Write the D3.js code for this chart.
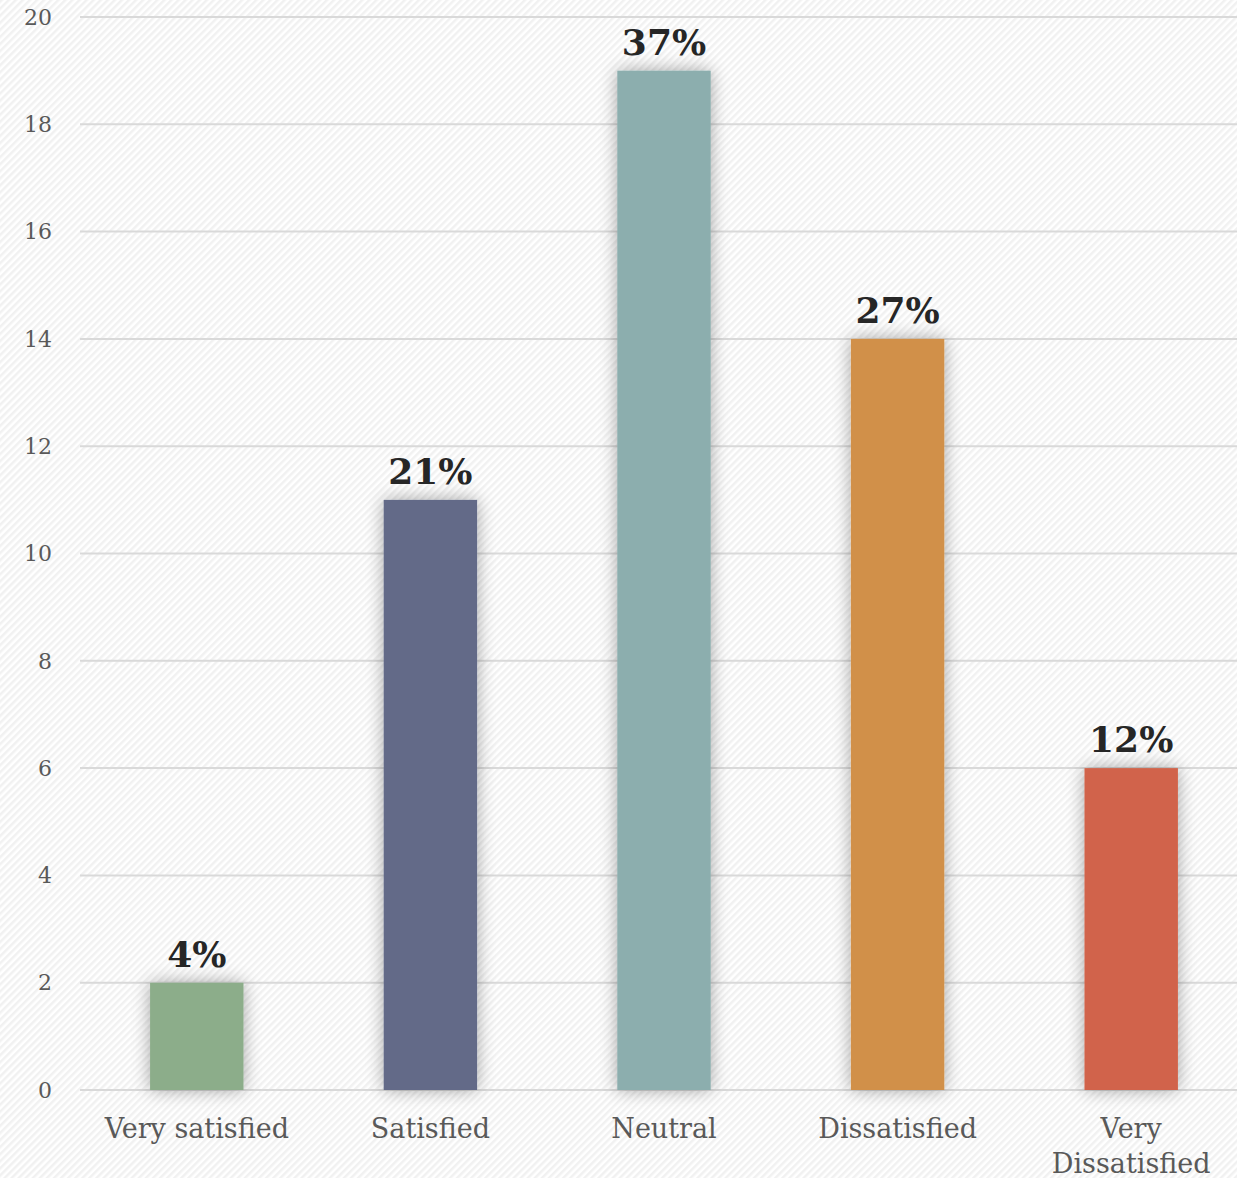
<!DOCTYPE html>
<html><head><meta charset="utf-8">
<script src="https://cdn.jsdelivr.net/npm/d3@7"></script>
<style>html,body{margin:0;padding:0;background:#fff;}svg{display:block;}</style>
</head><body>
<script>
const categories = ["Very satisfied", "Satisfied", "Neutral", "Dissatisfied", "Very Dissatisfied"];
const values = [2, 11, 19, 14, 6];
const pctLabels = ["4%", "21%", "37%", "27%", "12%"];
const colors = ["#8cad8a", "#636b88", "#8caeae", "#d19049", "#d1644b"];
const yTicks = [0, 2, 4, 6, 8, 10, 12, 14, 16, 18, 20];

const W = 1237, H = 1178;
const svg = d3.select("body").append("svg").attr("width", W).attr("height", H);
const defs = svg.append("defs");
const pat = defs.append("pattern").attr("id", "stripes").attr("patternUnits", "userSpaceOnUse")
  .attr("width", 5).attr("height", 5).attr("patternTransform", "rotate(45)");
pat.append("rect").attr("width", 5).attr("height", 5).attr("fill", "#ffffff");
pat.append("rect").attr("width", 2.5).attr("height", 5).attr("fill", "#f1f1f1");
const f = defs.append("filter").attr("id", "shadow").attr("x", "-50%").attr("y", "-20%").attr("width", "200%").attr("height", "140%");
f.append("feGaussianBlur").attr("in", "SourceAlpha").attr("stdDeviation", 9).attr("result", "b");
f.append("feComponentTransfer").attr("in", "b").attr("result", "b2")
  .append("feFuncA").attr("type", "linear").attr("slope", 0.35);
const m = f.append("feMerge");
m.append("feMergeNode").attr("in", "b2");
m.append("feMergeNode").attr("in", "SourceGraphic");

svg.append("rect").attr("width", W).attr("height", H).attr("fill", "url(#stripes)");

const y = d3.scaleLinear().domain([0, 20]).range([1090, 17]);
const x = d3.scaleBand().domain(categories).range([80, 1248]).paddingInner(0.6).paddingOuter(0.3);

const font = "'DejaVu Serif', Georgia, serif";

// grid
svg.append("g").selectAll("line").data(yTicks).join("line")
  .attr("x1", 80).attr("x2", W).attr("y1", d => y(d)).attr("y2", d => y(d))
  .attr("stroke", "#d9d9d9").attr("stroke-width", 2);

// y labels
svg.append("g").selectAll("text").data(yTicks).join("text")
  .attr("x", 52).attr("y", d => y(d)).attr("dy", "0.35em")
  .attr("text-anchor", "end").attr("font-family", font).attr("font-size", 22)
  .attr("fill", "#595959").text(d => d);

// bars
svg.append("g").selectAll("rect").data(values).join("rect")
  .attr("x", (d, i) => x(categories[i])).attr("width", x.bandwidth())
  .attr("y", d => y(d)).attr("height", d => y(0) - y(d))
  .attr("fill", (d, i) => colors[i]).attr("filter", "url(#shadow)");

// data labels
svg.append("g").selectAll("text").data(values).join("text")
  .attr("x", (d, i) => x(categories[i]) + x.bandwidth() / 2)
  .attr("y", d => y(d) - 16)
  .attr("text-anchor", "middle").attr("font-family", font).attr("font-weight", "bold")
  .attr("font-size", 36).attr("fill", "#262626").text((d, i) => pctLabels[i]);

// category labels
const cat = svg.append("g").selectAll("text").data(categories).join("text")
  .attr("x", d => x(d) + x.bandwidth() / 2)
  .attr("y", 1138)
  .attr("text-anchor", "middle").attr("font-family", font).attr("font-size", 27)
  .attr("fill", "#595959");
cat.each(function(d) {
  const t = d3.select(this);
  const lines = d === "Very Dissatisfied" ? ["Very", "Dissatisfied"] : [d];
  lines.forEach((l, k) => t.append("tspan").attr("x", x(d) + x.bandwidth() / 2).attr("dy", k ? 35 : 0).text(l));
});
</script>
</body></html>
